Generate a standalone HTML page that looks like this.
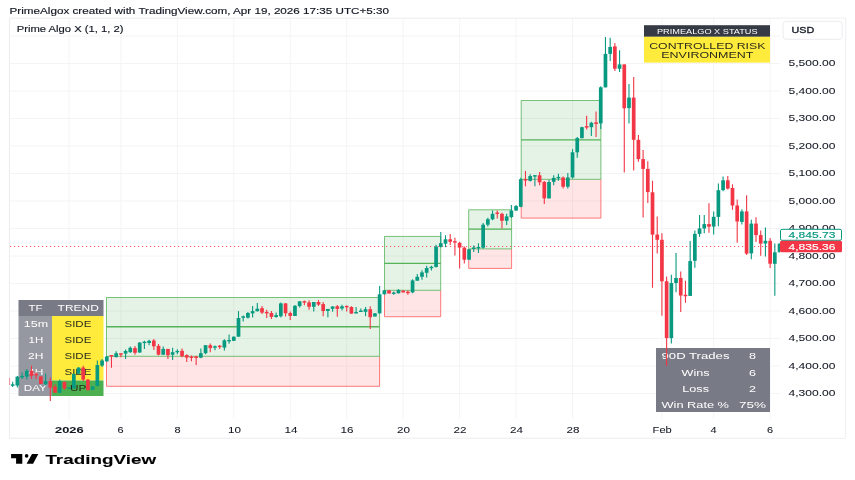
<!DOCTYPE html>
<html><head><meta charset="utf-8"><title>PrimeAlgox chart</title>
<style>html,body{margin:0;padding:0;background:#fff}body{width:855px;height:480px;overflow:hidden}svg{display:block}</style>
</head><body>
<svg width="855" height="480" viewBox="0 0 855 480" font-family='"Liberation Sans", sans-serif'>
<rect width="855" height="480" fill="#fff"/>
<line x1="69.13" y1="18.2" x2="69.13" y2="418.8" stroke="#f4f4f6" stroke-width="1"/>
<line x1="120.88" y1="18.2" x2="120.88" y2="418.8" stroke="#f4f4f6" stroke-width="1"/>
<line x1="177.33" y1="18.2" x2="177.33" y2="418.8" stroke="#f4f4f6" stroke-width="1"/>
<line x1="233.79" y1="18.2" x2="233.79" y2="418.8" stroke="#f4f4f6" stroke-width="1"/>
<line x1="290.25" y1="18.2" x2="290.25" y2="418.8" stroke="#f4f4f6" stroke-width="1"/>
<line x1="346.7" y1="18.2" x2="346.7" y2="418.8" stroke="#f4f4f6" stroke-width="1"/>
<line x1="403.16" y1="18.2" x2="403.16" y2="418.8" stroke="#f4f4f6" stroke-width="1"/>
<line x1="459.62" y1="18.2" x2="459.62" y2="418.8" stroke="#f4f4f6" stroke-width="1"/>
<line x1="516.07" y1="18.2" x2="516.07" y2="418.8" stroke="#f4f4f6" stroke-width="1"/>
<line x1="572.53" y1="18.2" x2="572.53" y2="418.8" stroke="#f4f4f6" stroke-width="1"/>
<line x1="661.92" y1="18.2" x2="661.92" y2="418.8" stroke="#f4f4f6" stroke-width="1"/>
<line x1="713.67" y1="18.2" x2="713.67" y2="418.8" stroke="#f4f4f6" stroke-width="1"/>
<line x1="770.13" y1="18.2" x2="770.13" y2="418.8" stroke="#f4f4f6" stroke-width="1"/>
<line x1="9.5" y1="393.50" x2="780" y2="393.50" stroke="#f4f4f6" stroke-width="1"/>
<line x1="9.5" y1="366.00" x2="780" y2="366.00" stroke="#f4f4f6" stroke-width="1"/>
<line x1="9.5" y1="338.50" x2="780" y2="338.50" stroke="#f4f4f6" stroke-width="1"/>
<line x1="9.5" y1="311.00" x2="780" y2="311.00" stroke="#f4f4f6" stroke-width="1"/>
<line x1="9.5" y1="283.50" x2="780" y2="283.50" stroke="#f4f4f6" stroke-width="1"/>
<line x1="9.5" y1="256.00" x2="780" y2="256.00" stroke="#f4f4f6" stroke-width="1"/>
<line x1="9.5" y1="228.50" x2="780" y2="228.50" stroke="#f4f4f6" stroke-width="1"/>
<line x1="9.5" y1="201.00" x2="780" y2="201.00" stroke="#f4f4f6" stroke-width="1"/>
<line x1="9.5" y1="173.50" x2="780" y2="173.50" stroke="#f4f4f6" stroke-width="1"/>
<line x1="9.5" y1="146.00" x2="780" y2="146.00" stroke="#f4f4f6" stroke-width="1"/>
<line x1="9.5" y1="118.50" x2="780" y2="118.50" stroke="#f4f4f6" stroke-width="1"/>
<line x1="9.5" y1="91.00" x2="780" y2="91.00" stroke="#f4f4f6" stroke-width="1"/>
<line x1="9.5" y1="63.50" x2="780" y2="63.50" stroke="#f4f4f6" stroke-width="1"/>
<line x1="9.5" y1="36.00" x2="780" y2="36.00" stroke="#f4f4f6" stroke-width="1"/>
<path d="M9.5 438.2 V18.2 H845.7 V438.2 Z" fill="none" stroke="#ececef" stroke-width="1"/>
<text x="9.60" y="13.60" font-size="8.6" fill="#131722" stroke="#131722" stroke-width="0.15" font-weight="normal" textLength="379.40" lengthAdjust="spacingAndGlyphs">PrimeAlgox created with TradingView.com, Apr 19, 2026 17:35 UTC+5:30</text>
<text x="16.80" y="32.30" font-size="8.9" fill="#131722" stroke="#131722" stroke-width="0.15" font-weight="normal" textLength="106.70" lengthAdjust="spacingAndGlyphs">Prime Algo X (1, 1, 2)</text>
<rect x="18.5" y="300" width="85.0" height="16" fill="#787b86"/>
<rect x="18.5" y="316" width="33.5" height="80" fill="#9598a1"/>
<rect x="52" y="316" width="51.5" height="64.5" fill="#ffeb3b"/>
<rect x="52" y="380.5" width="51.5" height="15.5" fill="#4caf50"/>
<rect x="644" y="25.2" width="126" height="11.6" fill="#363a45"/>
<rect x="644" y="36.8" width="126" height="25.8" fill="#ffeb3b"/>
<rect x="656" y="348" width="114" height="64" fill="#787b86"/>
<text x="28.50" y="311.10" font-size="9.9" fill="#ffffff" stroke="#ffffff" stroke-width="0" font-weight="normal" textLength="14.10" lengthAdjust="spacingAndGlyphs">TF</text>
<text x="57.60" y="311.10" font-size="9.9" fill="#ffffff" stroke="#ffffff" stroke-width="0" font-weight="normal" textLength="41.20" lengthAdjust="spacingAndGlyphs">TREND</text>
<text x="23.80" y="327.10" font-size="9.9" fill="#ffffff" stroke="#ffffff" stroke-width="0" font-weight="normal" textLength="24.30" lengthAdjust="spacingAndGlyphs">15m</text>
<text x="28.60" y="343.10" font-size="9.9" fill="#ffffff" stroke="#ffffff" stroke-width="0" font-weight="normal" textLength="14.70" lengthAdjust="spacingAndGlyphs">1H</text>
<text x="28.00" y="359.10" font-size="9.9" fill="#ffffff" stroke="#ffffff" stroke-width="0" font-weight="normal" textLength="15.30" lengthAdjust="spacingAndGlyphs">2H</text>
<text x="28.00" y="375.10" font-size="9.9" fill="#ffffff" stroke="#ffffff" stroke-width="0" font-weight="normal" textLength="15.30" lengthAdjust="spacingAndGlyphs">4H</text>
<text x="23.80" y="391.10" font-size="9.9" fill="#ffffff" stroke="#ffffff" stroke-width="0" font-weight="normal" textLength="23.00" lengthAdjust="spacingAndGlyphs">DAY</text>
<text x="64.50" y="327.10" font-size="9.9" fill="#2b2b1c" stroke="#2b2b1c" stroke-width="0" font-weight="normal" textLength="26.80" lengthAdjust="spacingAndGlyphs">SIDE</text>
<text x="64.50" y="343.10" font-size="9.9" fill="#2b2b1c" stroke="#2b2b1c" stroke-width="0" font-weight="normal" textLength="26.80" lengthAdjust="spacingAndGlyphs">SIDE</text>
<text x="64.50" y="359.10" font-size="9.9" fill="#2b2b1c" stroke="#2b2b1c" stroke-width="0" font-weight="normal" textLength="26.80" lengthAdjust="spacingAndGlyphs">SIDE</text>
<text x="64.50" y="375.10" font-size="9.9" fill="#2b2b1c" stroke="#2b2b1c" stroke-width="0" font-weight="normal" textLength="26.80" lengthAdjust="spacingAndGlyphs">SIDE</text>
<text x="70.00" y="391.10" font-size="9.9" fill="#2b2b1c" stroke="#2b2b1c" stroke-width="0" font-weight="normal" textLength="16.30" lengthAdjust="spacingAndGlyphs">UP</text>
<text x="657.00" y="33.90" font-size="7.1" fill="#ffffff" stroke="#ffffff" stroke-width="0" font-weight="normal" textLength="100.60" lengthAdjust="spacingAndGlyphs">PRIMEALGO X STATUS</text>
<text x="649.20" y="48.90" font-size="9.9" fill="#2b2b1c" stroke="#2b2b1c" stroke-width="0" font-weight="normal" textLength="116.30" lengthAdjust="spacingAndGlyphs">CONTROLLED RISK</text>
<text x="661.30" y="58.40" font-size="9.9" fill="#2b2b1c" stroke="#2b2b1c" stroke-width="0" font-weight="normal" textLength="92.10" lengthAdjust="spacingAndGlyphs">ENVIRONMENT</text>
<text x="661.50" y="359.40" font-size="9.6" fill="#ffffff" stroke="#ffffff" stroke-width="0" font-weight="normal" textLength="68.00" lengthAdjust="spacingAndGlyphs">90D Trades</text>
<text x="681.50" y="375.50" font-size="9.6" fill="#ffffff" stroke="#ffffff" stroke-width="0" font-weight="normal" textLength="28.00" lengthAdjust="spacingAndGlyphs">Wins</text>
<text x="682.30" y="391.50" font-size="9.6" fill="#ffffff" stroke="#ffffff" stroke-width="0" font-weight="normal" textLength="26.70" lengthAdjust="spacingAndGlyphs">Loss</text>
<text x="661.50" y="407.50" font-size="9.6" fill="#ffffff" stroke="#ffffff" stroke-width="0" font-weight="normal" textLength="67.50" lengthAdjust="spacingAndGlyphs">Win Rate %</text>
<text x="749.00" y="359.40" font-size="9.6" fill="#ffffff" stroke="#ffffff" stroke-width="0" font-weight="normal" textLength="7.00" lengthAdjust="spacingAndGlyphs">8</text>
<text x="749.00" y="375.50" font-size="9.6" fill="#ffffff" stroke="#ffffff" stroke-width="0" font-weight="normal" textLength="7.00" lengthAdjust="spacingAndGlyphs">6</text>
<text x="749.00" y="391.50" font-size="9.6" fill="#ffffff" stroke="#ffffff" stroke-width="0" font-weight="normal" textLength="7.00" lengthAdjust="spacingAndGlyphs">2</text>
<text x="739.00" y="407.50" font-size="9.6" fill="#ffffff" stroke="#ffffff" stroke-width="0" font-weight="normal" textLength="27.00" lengthAdjust="spacingAndGlyphs">75%</text>
<rect x="106.5" y="297.5" width="273.1" height="58.80000000000001" fill="#4caf50" fill-opacity="0.15"/><rect x="106.5" y="356.3" width="273.1" height="30.0" fill="#ff5252" fill-opacity="0.15"/><path d="M106.5 356.3 V386.3 H379.6 V356.3" fill="none" stroke="#ff5252" stroke-opacity="0.75" stroke-width="1"/><path d="M106.5 356.3 V297.5 H379.6 V356.3 Z" fill="none" stroke="#4caf50" stroke-opacity="0.75" stroke-width="1"/><line x1="106.5" y1="326.7" x2="379.6" y2="326.7" stroke="#4caf50" stroke-opacity="0.95" stroke-width="1.35"/>
<rect x="384.5" y="236.4" width="56.19999999999999" height="53.900000000000006" fill="#4caf50" fill-opacity="0.15"/><rect x="384.5" y="290.3" width="56.19999999999999" height="26.399999999999977" fill="#ff5252" fill-opacity="0.15"/><path d="M384.5 290.3 V316.7 H440.7 V290.3" fill="none" stroke="#ff5252" stroke-opacity="0.75" stroke-width="1"/><path d="M384.5 290.3 V236.4 H440.7 V290.3 Z" fill="none" stroke="#4caf50" stroke-opacity="0.75" stroke-width="1"/><line x1="384.5" y1="263.4" x2="440.7" y2="263.4" stroke="#4caf50" stroke-opacity="0.95" stroke-width="1.35"/>
<rect x="468.7" y="209.8" width="42.900000000000034" height="39.099999999999994" fill="#4caf50" fill-opacity="0.15"/><rect x="468.7" y="248.9" width="42.900000000000034" height="19.49999999999997" fill="#ff5252" fill-opacity="0.15"/><path d="M468.7 248.9 V268.4 H511.6 V248.9" fill="none" stroke="#ff5252" stroke-opacity="0.75" stroke-width="1"/><path d="M468.7 248.9 V209.8 H511.6 V248.9 Z" fill="none" stroke="#4caf50" stroke-opacity="0.75" stroke-width="1"/><line x1="468.7" y1="229.1" x2="511.6" y2="229.1" stroke="#4caf50" stroke-opacity="0.95" stroke-width="1.35"/>
<rect x="521.2" y="100.5" width="79.69999999999993" height="78.80000000000001" fill="#4caf50" fill-opacity="0.15"/><rect x="521.2" y="179.3" width="79.69999999999993" height="38.79999999999998" fill="#ff5252" fill-opacity="0.15"/><path d="M521.2 179.3 V218.1 H600.9 V179.3" fill="none" stroke="#ff5252" stroke-opacity="0.75" stroke-width="1"/><path d="M521.2 179.3 V100.5 H600.9 V179.3 Z" fill="none" stroke="#4caf50" stroke-opacity="0.75" stroke-width="1"/><line x1="521.2" y1="139.9" x2="600.9" y2="139.9" stroke="#4caf50" stroke-opacity="0.95" stroke-width="1.35"/>
<line x1="10" y1="246.5" x2="780" y2="246.5" stroke="#f23645" stroke-width="1" stroke-opacity="0.8" stroke-dasharray="1.2 2.8"/>
<line x1="9.6" y1="378" x2="9.6" y2="385" stroke="#f23645" stroke-opacity="0.5" stroke-width="1"/>
<g>
<line x1="12.67" y1="381.8" x2="12.67" y2="386.9" stroke="#089981" stroke-width="1.1"/>
<rect x="10.82" y="384.3" width="3.70" height="1.5" fill="#089981"/>
<line x1="17.37" y1="375.9" x2="17.37" y2="387.6" stroke="#089981" stroke-width="1.1"/>
<rect x="15.52" y="376.7" width="3.70" height="8.8" fill="#089981"/>
<line x1="22.08" y1="372.3" x2="22.08" y2="378.9" stroke="#089981" stroke-width="1.1"/>
<rect x="20.23" y="375.9" width="3.70" height="1.5" fill="#089981"/>
<line x1="26.78" y1="369.1" x2="26.78" y2="379.6" stroke="#089981" stroke-width="1.1"/>
<rect x="24.93" y="370.8" width="3.70" height="5.8" fill="#089981"/>
<line x1="31.49" y1="365.7" x2="31.49" y2="378.9" stroke="#f23645" stroke-width="1.1"/>
<rect x="29.64" y="370.8" width="3.70" height="5.1" fill="#f23645"/>
<line x1="36.19" y1="372.3" x2="36.19" y2="378.9" stroke="#f23645" stroke-width="1.1"/>
<rect x="34.34" y="373.8" width="3.70" height="1.5" fill="#f23645"/>
<line x1="40.90" y1="376.4" x2="40.90" y2="384.0" stroke="#f23645" stroke-width="1.1"/>
<rect x="39.05" y="376.4" width="3.70" height="7.6" fill="#f23645"/>
<line x1="45.60" y1="373.8" x2="45.60" y2="385.4" stroke="#089981" stroke-width="1.1"/>
<rect x="43.75" y="381.0" width="3.70" height="3.2" fill="#089981"/>
<line x1="50.31" y1="377.4" x2="50.31" y2="401.0" stroke="#f23645" stroke-width="1.1"/>
<rect x="48.46" y="381.0" width="3.70" height="6.6" fill="#f23645"/>
<line x1="55.01" y1="384.3" x2="55.01" y2="393.0" stroke="#f23645" stroke-width="1.1"/>
<rect x="53.16" y="386.6" width="3.70" height="6.1" fill="#f23645"/>
<line x1="59.72" y1="379.6" x2="59.72" y2="393.0" stroke="#089981" stroke-width="1.1"/>
<rect x="57.87" y="381.0" width="3.70" height="11.7" fill="#089981"/>
<line x1="64.42" y1="381.8" x2="64.42" y2="389.8" stroke="#f23645" stroke-width="1.1"/>
<rect x="62.57" y="381.8" width="3.70" height="6.6" fill="#f23645"/>
<line x1="69.13" y1="387.2" x2="69.13" y2="389.1" stroke="#089981" stroke-width="1.1"/>
<rect x="67.28" y="387.5" width="3.70" height="1.4" fill="#089981"/>
<line x1="73.83" y1="373.8" x2="73.83" y2="389.1" stroke="#089981" stroke-width="1.1"/>
<rect x="71.98" y="373.8" width="3.70" height="14.6" fill="#089981"/>
<line x1="78.53" y1="367.2" x2="78.53" y2="373.8" stroke="#089981" stroke-width="1.1"/>
<rect x="76.68" y="367.6" width="3.70" height="6.1" fill="#089981"/>
<line x1="83.24" y1="365.7" x2="83.24" y2="381.0" stroke="#f23645" stroke-width="1.1"/>
<rect x="81.39" y="367.6" width="3.70" height="12.0" fill="#f23645"/>
<line x1="87.94" y1="378.9" x2="87.94" y2="390.5" stroke="#f23645" stroke-width="1.1"/>
<rect x="86.09" y="379.6" width="3.70" height="10.5" fill="#f23645"/>
<line x1="92.65" y1="386.1" x2="92.65" y2="390.1" stroke="#089981" stroke-width="1.1"/>
<rect x="90.80" y="386.6" width="3.70" height="3.2" fill="#089981"/>
<line x1="97.35" y1="360.6" x2="97.35" y2="386.1" stroke="#089981" stroke-width="1.1"/>
<rect x="95.50" y="365.0" width="3.70" height="21.1" fill="#089981"/>
<line x1="102.06" y1="359.1" x2="102.06" y2="367.1" stroke="#089981" stroke-width="1.1"/>
<rect x="100.21" y="360.5" width="3.70" height="5.1" fill="#089981"/>
<line x1="106.76" y1="356.1" x2="106.76" y2="362.0" stroke="#089981" stroke-width="1.1"/>
<rect x="104.91" y="356.6" width="3.70" height="4.7" fill="#089981"/>
<line x1="111.47" y1="355.0" x2="111.47" y2="367.8" stroke="#f23645" stroke-width="1.1"/>
<rect x="109.62" y="355.0" width="3.70" height="1.4" fill="#f23645"/>
<line x1="116.17" y1="351.3" x2="116.17" y2="357.6" stroke="#089981" stroke-width="1.1"/>
<rect x="114.32" y="353.2" width="3.70" height="3.9" fill="#089981"/>
<line x1="120.88" y1="353.2" x2="120.88" y2="357.2" stroke="#f23645" stroke-width="1.1"/>
<rect x="119.03" y="353.3" width="3.70" height="1.4" fill="#f23645"/>
<line x1="125.58" y1="349.6" x2="125.58" y2="359.1" stroke="#089981" stroke-width="1.1"/>
<rect x="123.73" y="351.0" width="3.70" height="2.6" fill="#089981"/>
<line x1="130.29" y1="346.4" x2="130.29" y2="352.8" stroke="#089981" stroke-width="1.1"/>
<rect x="128.44" y="347.8" width="3.70" height="4.4" fill="#089981"/>
<line x1="134.99" y1="345.9" x2="134.99" y2="354.7" stroke="#f23645" stroke-width="1.1"/>
<rect x="133.14" y="348.1" width="3.70" height="4.7" fill="#f23645"/>
<line x1="139.70" y1="342.0" x2="139.70" y2="352.8" stroke="#089981" stroke-width="1.1"/>
<rect x="137.85" y="342.6" width="3.70" height="9.9" fill="#089981"/>
<line x1="144.40" y1="340.8" x2="144.40" y2="348.9" stroke="#089981" stroke-width="1.1"/>
<rect x="142.55" y="341.7" width="3.70" height="1.4" fill="#089981"/>
<line x1="149.11" y1="339.7" x2="149.11" y2="345.2" stroke="#089981" stroke-width="1.1"/>
<rect x="147.26" y="340.8" width="3.70" height="2.2" fill="#089981"/>
<line x1="153.81" y1="339.1" x2="153.81" y2="349.9" stroke="#f23645" stroke-width="1.1"/>
<rect x="151.96" y="340.5" width="3.70" height="5.8" fill="#f23645"/>
<line x1="158.51" y1="344.0" x2="158.51" y2="355.4" stroke="#f23645" stroke-width="1.1"/>
<rect x="156.66" y="345.9" width="3.70" height="8.8" fill="#f23645"/>
<line x1="163.22" y1="346.4" x2="163.22" y2="355.1" stroke="#089981" stroke-width="1.1"/>
<rect x="161.37" y="348.9" width="3.70" height="5.8" fill="#089981"/>
<line x1="167.92" y1="348.9" x2="167.92" y2="359.1" stroke="#f23645" stroke-width="1.1"/>
<rect x="166.07" y="348.9" width="3.70" height="6.3" fill="#f23645"/>
<line x1="172.63" y1="347.8" x2="172.63" y2="360.1" stroke="#089981" stroke-width="1.1"/>
<rect x="170.78" y="352.2" width="3.70" height="2.5" fill="#089981"/>
<line x1="177.33" y1="349.3" x2="177.33" y2="354.3" stroke="#089981" stroke-width="1.1"/>
<rect x="175.48" y="350.9" width="3.70" height="1.4" fill="#089981"/>
<line x1="182.04" y1="348.4" x2="182.04" y2="357.2" stroke="#f23645" stroke-width="1.1"/>
<rect x="180.19" y="350.8" width="3.70" height="5.4" fill="#f23645"/>
<line x1="186.74" y1="354.3" x2="186.74" y2="362.0" stroke="#f23645" stroke-width="1.1"/>
<rect x="184.89" y="355.1" width="3.70" height="2.5" fill="#f23645"/>
<line x1="191.45" y1="355.4" x2="191.45" y2="361.3" stroke="#f23645" stroke-width="1.1"/>
<rect x="189.60" y="356.5" width="3.70" height="1.4" fill="#f23645"/>
<line x1="196.15" y1="355.7" x2="196.15" y2="364.9" stroke="#f23645" stroke-width="1.1"/>
<rect x="194.30" y="356.5" width="3.70" height="1.4" fill="#f23645"/>
<line x1="200.86" y1="348.4" x2="200.86" y2="358.3" stroke="#089981" stroke-width="1.1"/>
<rect x="199.01" y="353.2" width="3.70" height="4.4" fill="#089981"/>
<line x1="205.56" y1="344.9" x2="205.56" y2="354.3" stroke="#089981" stroke-width="1.1"/>
<rect x="203.71" y="345.2" width="3.70" height="8.0" fill="#089981"/>
<line x1="210.27" y1="343.5" x2="210.27" y2="352.2" stroke="#f23645" stroke-width="1.1"/>
<rect x="208.42" y="345.2" width="3.70" height="2.9" fill="#f23645"/>
<line x1="214.97" y1="345.5" x2="214.97" y2="350.3" stroke="#089981" stroke-width="1.1"/>
<rect x="213.12" y="346.3" width="3.70" height="1.4" fill="#089981"/>
<line x1="219.68" y1="345.1" x2="219.68" y2="349.1" stroke="#f23645" stroke-width="1.1"/>
<rect x="217.83" y="345.7" width="3.70" height="1.4" fill="#f23645"/>
<line x1="224.38" y1="339.3" x2="224.38" y2="350.5" stroke="#089981" stroke-width="1.1"/>
<rect x="222.53" y="340.3" width="3.70" height="7.3" fill="#089981"/>
<line x1="229.09" y1="334.5" x2="229.09" y2="343.7" stroke="#089981" stroke-width="1.1"/>
<rect x="227.24" y="340.0" width="3.70" height="1.4" fill="#089981"/>
<line x1="233.79" y1="336.4" x2="233.79" y2="341.0" stroke="#089981" stroke-width="1.1"/>
<rect x="231.94" y="336.7" width="3.70" height="4.1" fill="#089981"/>
<line x1="238.50" y1="311.1" x2="238.50" y2="336.7" stroke="#089981" stroke-width="1.1"/>
<rect x="236.65" y="318.0" width="3.70" height="18.7" fill="#089981"/>
<line x1="243.20" y1="315.5" x2="243.20" y2="321.4" stroke="#089981" stroke-width="1.1"/>
<rect x="241.35" y="316.4" width="3.70" height="1.4" fill="#089981"/>
<line x1="247.90" y1="311.9" x2="247.90" y2="318.4" stroke="#089981" stroke-width="1.1"/>
<rect x="246.05" y="313.0" width="3.70" height="4.7" fill="#089981"/>
<line x1="252.61" y1="306.0" x2="252.61" y2="317.4" stroke="#089981" stroke-width="1.1"/>
<rect x="250.76" y="311.1" width="3.70" height="2.2" fill="#089981"/>
<line x1="257.31" y1="303.1" x2="257.31" y2="311.6" stroke="#089981" stroke-width="1.1"/>
<rect x="255.46" y="308.7" width="3.70" height="2.5" fill="#089981"/>
<line x1="262.02" y1="306.0" x2="262.02" y2="314.1" stroke="#f23645" stroke-width="1.1"/>
<rect x="260.17" y="308.2" width="3.70" height="4.4" fill="#f23645"/>
<line x1="266.72" y1="309.7" x2="266.72" y2="318.0" stroke="#f23645" stroke-width="1.1"/>
<rect x="264.87" y="311.9" width="3.70" height="1.5" fill="#f23645"/>
<line x1="271.43" y1="311.1" x2="271.43" y2="318.9" stroke="#f23645" stroke-width="1.1"/>
<rect x="269.58" y="313.0" width="3.70" height="3.9" fill="#f23645"/>
<line x1="276.13" y1="312.6" x2="276.13" y2="317.7" stroke="#089981" stroke-width="1.1"/>
<rect x="274.28" y="315.1" width="3.70" height="1.9" fill="#089981"/>
<line x1="280.84" y1="302.4" x2="280.84" y2="317.4" stroke="#089981" stroke-width="1.1"/>
<rect x="278.99" y="303.4" width="3.70" height="12.8" fill="#089981"/>
<line x1="285.54" y1="303.1" x2="285.54" y2="316.5" stroke="#f23645" stroke-width="1.1"/>
<rect x="283.69" y="303.4" width="3.70" height="9.9" fill="#f23645"/>
<line x1="290.25" y1="311.6" x2="290.25" y2="319.9" stroke="#f23645" stroke-width="1.1"/>
<rect x="288.40" y="313.0" width="3.70" height="2.9" fill="#f23645"/>
<line x1="294.95" y1="304.9" x2="294.95" y2="316.0" stroke="#089981" stroke-width="1.1"/>
<rect x="293.10" y="305.8" width="3.70" height="10.2" fill="#089981"/>
<line x1="299.66" y1="300.9" x2="299.66" y2="307.5" stroke="#089981" stroke-width="1.1"/>
<rect x="297.81" y="301.4" width="3.70" height="4.7" fill="#089981"/>
<line x1="304.36" y1="300.5" x2="304.36" y2="305.3" stroke="#f23645" stroke-width="1.1"/>
<rect x="302.51" y="301.2" width="3.70" height="1.4" fill="#f23645"/>
<line x1="309.07" y1="300.2" x2="309.07" y2="309.7" stroke="#f23645" stroke-width="1.1"/>
<rect x="307.22" y="302.4" width="3.70" height="4.4" fill="#f23645"/>
<line x1="313.77" y1="302.0" x2="313.77" y2="311.6" stroke="#089981" stroke-width="1.1"/>
<rect x="311.92" y="302.0" width="3.70" height="4.8" fill="#089981"/>
<line x1="318.48" y1="299.9" x2="318.48" y2="306.0" stroke="#f23645" stroke-width="1.1"/>
<rect x="316.63" y="302.0" width="3.70" height="2.6" fill="#f23645"/>
<line x1="323.18" y1="301.9" x2="323.18" y2="316.2" stroke="#f23645" stroke-width="1.1"/>
<rect x="321.33" y="304.1" width="3.70" height="6.9" fill="#f23645"/>
<line x1="327.88" y1="308.9" x2="327.88" y2="317.2" stroke="#089981" stroke-width="1.1"/>
<rect x="326.03" y="308.9" width="3.70" height="2.0" fill="#089981"/>
<line x1="332.59" y1="306.3" x2="332.59" y2="311.8" stroke="#089981" stroke-width="1.1"/>
<rect x="330.74" y="306.5" width="3.70" height="2.3" fill="#089981"/>
<line x1="337.29" y1="305.1" x2="337.29" y2="316.8" stroke="#f23645" stroke-width="1.1"/>
<rect x="335.44" y="306.3" width="3.70" height="2.6" fill="#f23645"/>
<line x1="342.00" y1="304.8" x2="342.00" y2="310.6" stroke="#089981" stroke-width="1.1"/>
<rect x="340.15" y="306.3" width="3.70" height="2.2" fill="#089981"/>
<line x1="346.70" y1="305.5" x2="346.70" y2="311.4" stroke="#f23645" stroke-width="1.1"/>
<rect x="344.85" y="305.9" width="3.70" height="1.4" fill="#f23645"/>
<line x1="351.41" y1="306.3" x2="351.41" y2="313.8" stroke="#f23645" stroke-width="1.1"/>
<rect x="349.56" y="307.0" width="3.70" height="6.6" fill="#f23645"/>
<line x1="356.11" y1="307.0" x2="356.11" y2="313.4" stroke="#089981" stroke-width="1.1"/>
<rect x="354.26" y="312.0" width="3.70" height="1.4" fill="#089981"/>
<line x1="360.82" y1="308.4" x2="360.82" y2="312.1" stroke="#089981" stroke-width="1.1"/>
<rect x="358.97" y="310.6" width="3.70" height="1.4" fill="#089981"/>
<line x1="365.52" y1="307.0" x2="365.52" y2="316.2" stroke="#089981" stroke-width="1.1"/>
<rect x="363.67" y="309.2" width="3.70" height="2.6" fill="#089981"/>
<line x1="370.23" y1="306.3" x2="370.23" y2="328.9" stroke="#f23645" stroke-width="1.1"/>
<rect x="368.38" y="309.2" width="3.70" height="8.0" fill="#f23645"/>
<line x1="374.93" y1="313.3" x2="374.93" y2="316.5" stroke="#089981" stroke-width="1.1"/>
<rect x="373.08" y="313.3" width="3.70" height="3.2" fill="#089981"/>
<line x1="379.64" y1="286.1" x2="379.64" y2="313.8" stroke="#089981" stroke-width="1.1"/>
<rect x="377.79" y="294.3" width="3.70" height="19.0" fill="#089981"/>
<line x1="384.34" y1="290.3" x2="384.34" y2="294.7" stroke="#089981" stroke-width="1.1"/>
<rect x="382.49" y="290.3" width="3.70" height="3.9" fill="#089981"/>
<line x1="389.05" y1="290.3" x2="389.05" y2="293.5" stroke="#f23645" stroke-width="1.1"/>
<rect x="387.20" y="290.3" width="3.70" height="3.2" fill="#f23645"/>
<line x1="393.75" y1="291.4" x2="393.75" y2="294.7" stroke="#089981" stroke-width="1.1"/>
<rect x="391.90" y="292.5" width="3.70" height="1.4" fill="#089981"/>
<line x1="398.46" y1="289.2" x2="398.46" y2="293.5" stroke="#089981" stroke-width="1.1"/>
<rect x="396.61" y="289.9" width="3.70" height="3.4" fill="#089981"/>
<line x1="403.16" y1="290.6" x2="403.16" y2="292.4" stroke="#f23645" stroke-width="1.1"/>
<rect x="401.31" y="290.6" width="3.70" height="1.8" fill="#f23645"/>
<line x1="407.87" y1="290.6" x2="407.87" y2="294.7" stroke="#f23645" stroke-width="1.1"/>
<rect x="406.02" y="291.7" width="3.70" height="1.4" fill="#f23645"/>
<line x1="412.57" y1="279.3" x2="412.57" y2="293.3" stroke="#089981" stroke-width="1.1"/>
<rect x="410.72" y="280.4" width="3.70" height="12.0" fill="#089981"/>
<line x1="417.27" y1="273.9" x2="417.27" y2="280.7" stroke="#089981" stroke-width="1.1"/>
<rect x="415.42" y="276.8" width="3.70" height="3.9" fill="#089981"/>
<line x1="421.98" y1="270.2" x2="421.98" y2="279.7" stroke="#089981" stroke-width="1.1"/>
<rect x="420.13" y="272.4" width="3.70" height="4.4" fill="#089981"/>
<line x1="426.68" y1="265.8" x2="426.68" y2="277.5" stroke="#089981" stroke-width="1.1"/>
<rect x="424.83" y="268.0" width="3.70" height="4.8" fill="#089981"/>
<line x1="431.39" y1="265.8" x2="431.39" y2="270.5" stroke="#089981" stroke-width="1.1"/>
<rect x="429.54" y="266.8" width="3.70" height="1.4" fill="#089981"/>
<line x1="436.09" y1="244.7" x2="436.09" y2="267.6" stroke="#089981" stroke-width="1.1"/>
<rect x="434.24" y="246.6" width="3.70" height="20.4" fill="#089981"/>
<line x1="440.80" y1="232.0" x2="440.80" y2="247.6" stroke="#089981" stroke-width="1.1"/>
<rect x="438.95" y="243.2" width="3.70" height="3.6" fill="#089981"/>
<line x1="445.50" y1="235.2" x2="445.50" y2="247.2" stroke="#089981" stroke-width="1.1"/>
<rect x="443.65" y="239.3" width="3.70" height="4.4" fill="#089981"/>
<line x1="450.21" y1="234.0" x2="450.21" y2="245.1" stroke="#f23645" stroke-width="1.1"/>
<rect x="448.36" y="239.3" width="3.70" height="2.5" fill="#f23645"/>
<line x1="454.91" y1="237.8" x2="454.91" y2="255.6" stroke="#f23645" stroke-width="1.1"/>
<rect x="453.06" y="241.2" width="3.70" height="1.4" fill="#f23645"/>
<line x1="459.62" y1="241.8" x2="459.62" y2="268.5" stroke="#f23645" stroke-width="1.1"/>
<rect x="457.77" y="242.8" width="3.70" height="4.8" fill="#f23645"/>
<line x1="464.32" y1="246.6" x2="464.32" y2="263.6" stroke="#f23645" stroke-width="1.1"/>
<rect x="462.47" y="247.6" width="3.70" height="12.1" fill="#f23645"/>
<line x1="469.03" y1="249.2" x2="469.03" y2="259.7" stroke="#089981" stroke-width="1.1"/>
<rect x="467.18" y="249.2" width="3.70" height="10.5" fill="#089981"/>
<line x1="473.73" y1="245.5" x2="473.73" y2="252.0" stroke="#089981" stroke-width="1.1"/>
<rect x="471.88" y="247.5" width="3.70" height="1.4" fill="#089981"/>
<line x1="478.44" y1="243.3" x2="478.44" y2="253.1" stroke="#089981" stroke-width="1.1"/>
<rect x="476.59" y="247.0" width="3.70" height="1.4" fill="#089981"/>
<line x1="483.14" y1="222.9" x2="483.14" y2="248.8" stroke="#089981" stroke-width="1.1"/>
<rect x="481.29" y="224.7" width="3.70" height="23.0" fill="#089981"/>
<line x1="487.85" y1="217.7" x2="487.85" y2="226.4" stroke="#089981" stroke-width="1.1"/>
<rect x="486.00" y="219.2" width="3.70" height="5.5" fill="#089981"/>
<line x1="492.55" y1="210.5" x2="492.55" y2="220.3" stroke="#089981" stroke-width="1.1"/>
<rect x="490.70" y="213.8" width="3.70" height="5.5" fill="#089981"/>
<line x1="497.25" y1="210.5" x2="497.25" y2="218.6" stroke="#f23645" stroke-width="1.1"/>
<rect x="495.40" y="212.5" width="3.70" height="1.4" fill="#f23645"/>
<line x1="501.96" y1="212.7" x2="501.96" y2="228.6" stroke="#f23645" stroke-width="1.1"/>
<rect x="500.11" y="213.8" width="3.70" height="7.0" fill="#f23645"/>
<line x1="506.66" y1="213.8" x2="506.66" y2="225.1" stroke="#089981" stroke-width="1.1"/>
<rect x="504.81" y="216.4" width="3.70" height="4.4" fill="#089981"/>
<line x1="511.37" y1="205.0" x2="511.37" y2="218.1" stroke="#089981" stroke-width="1.1"/>
<rect x="509.52" y="210.5" width="3.70" height="6.6" fill="#089981"/>
<line x1="516.07" y1="205.0" x2="516.07" y2="211.1" stroke="#089981" stroke-width="1.1"/>
<rect x="514.22" y="206.1" width="3.70" height="4.4" fill="#089981"/>
<line x1="520.78" y1="177.7" x2="520.78" y2="207.2" stroke="#089981" stroke-width="1.1"/>
<rect x="518.93" y="179.2" width="3.70" height="27.6" fill="#089981"/>
<line x1="525.48" y1="170.9" x2="525.48" y2="186.3" stroke="#f23645" stroke-width="1.1"/>
<rect x="523.63" y="179.1" width="3.70" height="1.4" fill="#f23645"/>
<line x1="530.19" y1="174.2" x2="530.19" y2="181.4" stroke="#089981" stroke-width="1.1"/>
<rect x="528.34" y="176.0" width="3.70" height="4.8" fill="#089981"/>
<line x1="534.89" y1="174.9" x2="534.89" y2="186.3" stroke="#089981" stroke-width="1.1"/>
<rect x="533.04" y="175.2" width="3.70" height="1.4" fill="#089981"/>
<line x1="539.60" y1="172.0" x2="539.60" y2="185.2" stroke="#f23645" stroke-width="1.1"/>
<rect x="537.75" y="175.3" width="3.70" height="7.0" fill="#f23645"/>
<line x1="544.30" y1="180.9" x2="544.30" y2="203.9" stroke="#f23645" stroke-width="1.1"/>
<rect x="542.45" y="182.0" width="3.70" height="16.4" fill="#f23645"/>
<line x1="549.01" y1="179.8" x2="549.01" y2="198.4" stroke="#089981" stroke-width="1.1"/>
<rect x="547.16" y="182.0" width="3.70" height="16.4" fill="#089981"/>
<line x1="553.71" y1="175.3" x2="553.71" y2="185.2" stroke="#089981" stroke-width="1.1"/>
<rect x="551.86" y="177.9" width="3.70" height="3.9" fill="#089981"/>
<line x1="558.42" y1="173.8" x2="558.42" y2="180.8" stroke="#089981" stroke-width="1.1"/>
<rect x="556.57" y="176.9" width="3.70" height="1.4" fill="#089981"/>
<line x1="563.12" y1="176.4" x2="563.12" y2="188.4" stroke="#f23645" stroke-width="1.1"/>
<rect x="561.27" y="177.5" width="3.70" height="9.2" fill="#f23645"/>
<line x1="567.83" y1="173.1" x2="567.83" y2="188.4" stroke="#089981" stroke-width="1.1"/>
<rect x="565.98" y="177.5" width="3.70" height="9.2" fill="#089981"/>
<line x1="572.53" y1="149.1" x2="572.53" y2="178.6" stroke="#089981" stroke-width="1.1"/>
<rect x="570.68" y="152.3" width="3.70" height="25.2" fill="#089981"/>
<line x1="577.24" y1="137.0" x2="577.24" y2="157.8" stroke="#089981" stroke-width="1.1"/>
<rect x="575.39" y="138.1" width="3.70" height="14.2" fill="#089981"/>
<line x1="581.94" y1="126.8" x2="581.94" y2="138.6" stroke="#089981" stroke-width="1.1"/>
<rect x="580.09" y="127.2" width="3.70" height="10.9" fill="#089981"/>
<line x1="586.64" y1="115.8" x2="586.64" y2="129.4" stroke="#f23645" stroke-width="1.1"/>
<rect x="584.79" y="126.1" width="3.70" height="1.5" fill="#f23645"/>
<line x1="591.35" y1="121.7" x2="591.35" y2="135.9" stroke="#089981" stroke-width="1.1"/>
<rect x="589.50" y="122.8" width="3.70" height="4.4" fill="#089981"/>
<line x1="596.05" y1="111.4" x2="596.05" y2="137.0" stroke="#f23645" stroke-width="1.1"/>
<rect x="594.20" y="122.4" width="3.70" height="1.5" fill="#f23645"/>
<line x1="600.76" y1="86.3" x2="600.76" y2="128.9" stroke="#089981" stroke-width="1.1"/>
<rect x="598.91" y="87.3" width="3.70" height="36.1" fill="#089981"/>
<line x1="605.46" y1="37.0" x2="605.46" y2="87.3" stroke="#089981" stroke-width="1.1"/>
<rect x="603.61" y="53.9" width="3.70" height="33.5" fill="#089981"/>
<line x1="610.17" y1="37.7" x2="610.17" y2="61.1" stroke="#089981" stroke-width="1.1"/>
<rect x="608.32" y="46.9" width="3.70" height="7.0" fill="#089981"/>
<line x1="614.87" y1="42.9" x2="614.87" y2="70.9" stroke="#f23645" stroke-width="1.1"/>
<rect x="613.02" y="46.4" width="3.70" height="22.3" fill="#f23645"/>
<line x1="619.58" y1="50.2" x2="619.58" y2="72.0" stroke="#089981" stroke-width="1.1"/>
<rect x="617.73" y="64.4" width="3.70" height="4.4" fill="#089981"/>
<line x1="624.28" y1="64.4" x2="624.28" y2="172.6" stroke="#f23645" stroke-width="1.1"/>
<rect x="622.43" y="64.4" width="3.70" height="43.9" fill="#f23645"/>
<line x1="628.99" y1="84.1" x2="628.99" y2="123.4" stroke="#089981" stroke-width="1.1"/>
<rect x="627.14" y="97.6" width="3.70" height="10.5" fill="#089981"/>
<line x1="633.69" y1="77.1" x2="633.69" y2="170.4" stroke="#f23645" stroke-width="1.1"/>
<rect x="631.84" y="97.6" width="3.70" height="42.2" fill="#f23645"/>
<line x1="638.40" y1="135.0" x2="638.40" y2="161.7" stroke="#f23645" stroke-width="1.1"/>
<rect x="636.55" y="139.8" width="3.70" height="19.3" fill="#f23645"/>
<line x1="643.10" y1="149.9" x2="643.10" y2="217.5" stroke="#f23645" stroke-width="1.1"/>
<rect x="641.25" y="159.1" width="3.70" height="9.8" fill="#f23645"/>
<line x1="647.81" y1="161.3" x2="647.81" y2="203.0" stroke="#f23645" stroke-width="1.1"/>
<rect x="645.96" y="168.9" width="3.70" height="23.2" fill="#f23645"/>
<line x1="652.51" y1="180.8" x2="652.51" y2="287.8" stroke="#f23645" stroke-width="1.1"/>
<rect x="650.66" y="192.3" width="3.70" height="42.3" fill="#f23645"/>
<line x1="657.22" y1="216.4" x2="657.22" y2="253.6" stroke="#f23645" stroke-width="1.1"/>
<rect x="655.37" y="234.6" width="3.70" height="5.2" fill="#f23645"/>
<line x1="661.92" y1="233.3" x2="661.92" y2="315.8" stroke="#f23645" stroke-width="1.1"/>
<rect x="660.07" y="239.8" width="3.70" height="41.5" fill="#f23645"/>
<line x1="666.63" y1="276.4" x2="666.63" y2="366.0" stroke="#f23645" stroke-width="1.1"/>
<rect x="664.78" y="281.3" width="3.70" height="56.8" fill="#f23645"/>
<line x1="671.33" y1="274.7" x2="671.33" y2="343.6" stroke="#089981" stroke-width="1.1"/>
<rect x="669.48" y="283.0" width="3.70" height="55.1" fill="#089981"/>
<line x1="676.03" y1="252.9" x2="676.03" y2="292.2" stroke="#089981" stroke-width="1.1"/>
<rect x="674.18" y="278.0" width="3.70" height="5.0" fill="#089981"/>
<line x1="680.74" y1="271.4" x2="680.74" y2="311.9" stroke="#f23645" stroke-width="1.1"/>
<rect x="678.89" y="278.0" width="3.70" height="17.5" fill="#f23645"/>
<line x1="685.44" y1="280.8" x2="685.44" y2="302.7" stroke="#f23645" stroke-width="1.1"/>
<rect x="683.59" y="294.8" width="3.70" height="1.4" fill="#f23645"/>
<line x1="690.15" y1="241.1" x2="690.15" y2="295.9" stroke="#089981" stroke-width="1.1"/>
<rect x="688.30" y="261.1" width="3.70" height="34.8" fill="#089981"/>
<line x1="694.85" y1="230.6" x2="694.85" y2="267.8" stroke="#089981" stroke-width="1.1"/>
<rect x="693.00" y="233.9" width="3.70" height="26.9" fill="#089981"/>
<line x1="699.56" y1="214.9" x2="699.56" y2="236.8" stroke="#089981" stroke-width="1.1"/>
<rect x="697.71" y="228.4" width="3.70" height="5.5" fill="#089981"/>
<line x1="704.26" y1="214.9" x2="704.26" y2="233.3" stroke="#089981" stroke-width="1.1"/>
<rect x="702.41" y="224.1" width="3.70" height="4.4" fill="#089981"/>
<line x1="708.97" y1="203.3" x2="708.97" y2="232.8" stroke="#f23645" stroke-width="1.1"/>
<rect x="707.12" y="224.1" width="3.70" height="2.6" fill="#f23645"/>
<line x1="713.67" y1="211.4" x2="713.67" y2="234.6" stroke="#089981" stroke-width="1.1"/>
<rect x="711.82" y="216.8" width="3.70" height="9.8" fill="#089981"/>
<line x1="718.38" y1="183.6" x2="718.38" y2="226.3" stroke="#089981" stroke-width="1.1"/>
<rect x="716.53" y="190.2" width="3.70" height="26.7" fill="#089981"/>
<line x1="723.08" y1="176.4" x2="723.08" y2="191.3" stroke="#089981" stroke-width="1.1"/>
<rect x="721.23" y="180.3" width="3.70" height="9.8" fill="#089981"/>
<line x1="727.79" y1="175.9" x2="727.79" y2="189.5" stroke="#f23645" stroke-width="1.1"/>
<rect x="725.94" y="180.3" width="3.70" height="8.3" fill="#f23645"/>
<line x1="732.49" y1="184.3" x2="732.49" y2="209.8" stroke="#f23645" stroke-width="1.1"/>
<rect x="730.64" y="188.0" width="3.70" height="17.5" fill="#f23645"/>
<line x1="737.20" y1="199.6" x2="737.20" y2="242.7" stroke="#f23645" stroke-width="1.1"/>
<rect x="735.35" y="205.5" width="3.70" height="16.0" fill="#f23645"/>
<line x1="741.90" y1="209.2" x2="741.90" y2="224.5" stroke="#089981" stroke-width="1.1"/>
<rect x="740.05" y="211.4" width="3.70" height="10.5" fill="#089981"/>
<line x1="746.61" y1="195.2" x2="746.61" y2="255.1" stroke="#f23645" stroke-width="1.1"/>
<rect x="744.76" y="211.4" width="3.70" height="42.2" fill="#f23645"/>
<line x1="751.31" y1="219.7" x2="751.31" y2="259.2" stroke="#089981" stroke-width="1.1"/>
<rect x="749.46" y="223.6" width="3.70" height="29.8" fill="#089981"/>
<line x1="756.01" y1="217.2" x2="756.01" y2="242.0" stroke="#f23645" stroke-width="1.1"/>
<rect x="754.16" y="223.6" width="3.70" height="11.5" fill="#f23645"/>
<line x1="760.72" y1="230.5" x2="760.72" y2="255.7" stroke="#f23645" stroke-width="1.1"/>
<rect x="758.87" y="235.1" width="3.70" height="8.5" fill="#f23645"/>
<line x1="765.42" y1="227.5" x2="765.42" y2="256.4" stroke="#089981" stroke-width="1.1"/>
<rect x="763.57" y="240.8" width="3.70" height="2.7" fill="#089981"/>
<line x1="770.13" y1="238.1" x2="770.13" y2="267.9" stroke="#f23645" stroke-width="1.1"/>
<rect x="768.28" y="240.8" width="3.70" height="22.9" fill="#f23645"/>
<line x1="774.83" y1="243.6" x2="774.83" y2="295.8" stroke="#089981" stroke-width="1.1"/>
<rect x="772.98" y="252.3" width="3.70" height="11.5" fill="#089981"/>
<line x1="779.54" y1="243.6" x2="779.54" y2="252.3" stroke="#089981" stroke-width="1.1"/>
<rect x="777.69" y="243.6" width="2.31" height="8.7" fill="#089981"/>
</g>
<rect x="780" y="18.7" width="65.20000000000005" height="419.0" fill="#fff"/>
<text x="788.50" y="396.10" font-size="8.6" fill="#131722" stroke="#131722" stroke-width="0.05" font-weight="normal" textLength="46.90" lengthAdjust="spacingAndGlyphs">4,300.00</text>
<text x="788.50" y="368.60" font-size="8.6" fill="#131722" stroke="#131722" stroke-width="0.05" font-weight="normal" textLength="46.90" lengthAdjust="spacingAndGlyphs">4,400.00</text>
<text x="788.50" y="341.10" font-size="8.6" fill="#131722" stroke="#131722" stroke-width="0.05" font-weight="normal" textLength="46.90" lengthAdjust="spacingAndGlyphs">4,500.00</text>
<text x="788.50" y="313.60" font-size="8.6" fill="#131722" stroke="#131722" stroke-width="0.05" font-weight="normal" textLength="46.90" lengthAdjust="spacingAndGlyphs">4,600.00</text>
<text x="788.50" y="286.10" font-size="8.6" fill="#131722" stroke="#131722" stroke-width="0.05" font-weight="normal" textLength="46.90" lengthAdjust="spacingAndGlyphs">4,700.00</text>
<text x="788.50" y="258.60" font-size="8.6" fill="#131722" stroke="#131722" stroke-width="0.05" font-weight="normal" textLength="46.90" lengthAdjust="spacingAndGlyphs">4,800.00</text>
<text x="788.50" y="231.10" font-size="8.6" fill="#131722" stroke="#131722" stroke-width="0.05" font-weight="normal" textLength="46.90" lengthAdjust="spacingAndGlyphs">4,900.00</text>
<text x="788.50" y="203.60" font-size="8.6" fill="#131722" stroke="#131722" stroke-width="0.05" font-weight="normal" textLength="46.90" lengthAdjust="spacingAndGlyphs">5,000.00</text>
<text x="788.50" y="176.10" font-size="8.6" fill="#131722" stroke="#131722" stroke-width="0.05" font-weight="normal" textLength="46.90" lengthAdjust="spacingAndGlyphs">5,100.00</text>
<text x="788.50" y="148.60" font-size="8.6" fill="#131722" stroke="#131722" stroke-width="0.05" font-weight="normal" textLength="46.90" lengthAdjust="spacingAndGlyphs">5,200.00</text>
<text x="788.50" y="121.10" font-size="8.6" fill="#131722" stroke="#131722" stroke-width="0.05" font-weight="normal" textLength="46.90" lengthAdjust="spacingAndGlyphs">5,300.00</text>
<text x="788.50" y="93.60" font-size="8.6" fill="#131722" stroke="#131722" stroke-width="0.05" font-weight="normal" textLength="46.90" lengthAdjust="spacingAndGlyphs">5,400.00</text>
<text x="788.50" y="66.10" font-size="8.6" fill="#131722" stroke="#131722" stroke-width="0.05" font-weight="normal" textLength="46.90" lengthAdjust="spacingAndGlyphs">5,500.00</text>
<rect x="783.1" y="21.4" width="59.1" height="17.9" rx="3" fill="#fff" stroke="#ebecf0" stroke-width="1"/>
<text x="791.60" y="33.05" font-size="8.7" fill="#131722" stroke="#131722" stroke-width="0.3" font-weight="normal" textLength="22.70" lengthAdjust="spacingAndGlyphs">USD</text>
<rect x="780.5" y="229.3" width="61" height="11" rx="1.5" fill="#fff" stroke="#089981" stroke-width="1"/>
<text x="788.50" y="238.00" font-size="8.6" fill="#089981" stroke="#089981" stroke-width="0.15" font-weight="normal" textLength="46.90" lengthAdjust="spacingAndGlyphs">4,845.73</text>
<rect x="780" y="240.7" width="62" height="11.5" rx="1.5" fill="#f23645"/>
<text x="788.50" y="249.60" font-size="8.6" fill="#ffffff" stroke="#ffffff" stroke-width="0.15" font-weight="normal" textLength="46.90" lengthAdjust="spacingAndGlyphs">4,835.36</text>
<text x="55.05" y="432.60" font-size="8.5" fill="#131722" stroke="#131722" stroke-width="0.05" font-weight="bold" textLength="28.50" lengthAdjust="spacingAndGlyphs">2026</text>
<text x="117.55" y="432.60" font-size="8.5" fill="#131722" stroke="#131722" stroke-width="0.05" font-weight="normal" textLength="6.10" lengthAdjust="spacingAndGlyphs">6</text>
<text x="174.55" y="432.60" font-size="8.5" fill="#131722" stroke="#131722" stroke-width="0.05" font-weight="normal" textLength="6.10" lengthAdjust="spacingAndGlyphs">8</text>
<text x="227.90" y="432.60" font-size="8.5" fill="#131722" stroke="#131722" stroke-width="0.05" font-weight="normal" textLength="13.00" lengthAdjust="spacingAndGlyphs">10</text>
<text x="284.40" y="432.60" font-size="8.5" fill="#131722" stroke="#131722" stroke-width="0.05" font-weight="normal" textLength="13.00" lengthAdjust="spacingAndGlyphs">14</text>
<text x="340.60" y="432.60" font-size="8.5" fill="#131722" stroke="#131722" stroke-width="0.05" font-weight="normal" textLength="13.00" lengthAdjust="spacingAndGlyphs">16</text>
<text x="397.00" y="432.60" font-size="8.5" fill="#131722" stroke="#131722" stroke-width="0.05" font-weight="normal" textLength="13.00" lengthAdjust="spacingAndGlyphs">20</text>
<text x="453.40" y="432.60" font-size="8.5" fill="#131722" stroke="#131722" stroke-width="0.05" font-weight="normal" textLength="13.00" lengthAdjust="spacingAndGlyphs">22</text>
<text x="510.00" y="432.60" font-size="8.5" fill="#131722" stroke="#131722" stroke-width="0.05" font-weight="normal" textLength="13.00" lengthAdjust="spacingAndGlyphs">24</text>
<text x="566.50" y="432.60" font-size="8.5" fill="#131722" stroke="#131722" stroke-width="0.05" font-weight="normal" textLength="13.00" lengthAdjust="spacingAndGlyphs">28</text>
<text x="652.60" y="432.60" font-size="8.5" fill="#131722" stroke="#131722" stroke-width="0.05" font-weight="normal" textLength="19.20" lengthAdjust="spacingAndGlyphs">Feb</text>
<text x="710.55" y="432.60" font-size="8.5" fill="#131722" stroke="#131722" stroke-width="0.05" font-weight="normal" textLength="6.10" lengthAdjust="spacingAndGlyphs">4</text>
<text x="767.05" y="432.60" font-size="8.5" fill="#131722" stroke="#131722" stroke-width="0.05" font-weight="normal" textLength="6.10" lengthAdjust="spacingAndGlyphs">6</text>
<g fill="#000"><path d="M11.1 454.1 H22.3 V463.7 H16.1 V458.2 H11.1 Z"/><circle cx="26.6" cy="455.9" r="1.8"/><path d="M32.0 454.1 H38.3 L33.1 463.7 H26.6 Z"/></g>
<text x="45.40" y="463.70" font-size="13.4" fill="#000" stroke="#000" stroke-width="0.1" font-weight="bold" textLength="110.70" lengthAdjust="spacingAndGlyphs">TradingView</text>
</svg>
</body></html>
